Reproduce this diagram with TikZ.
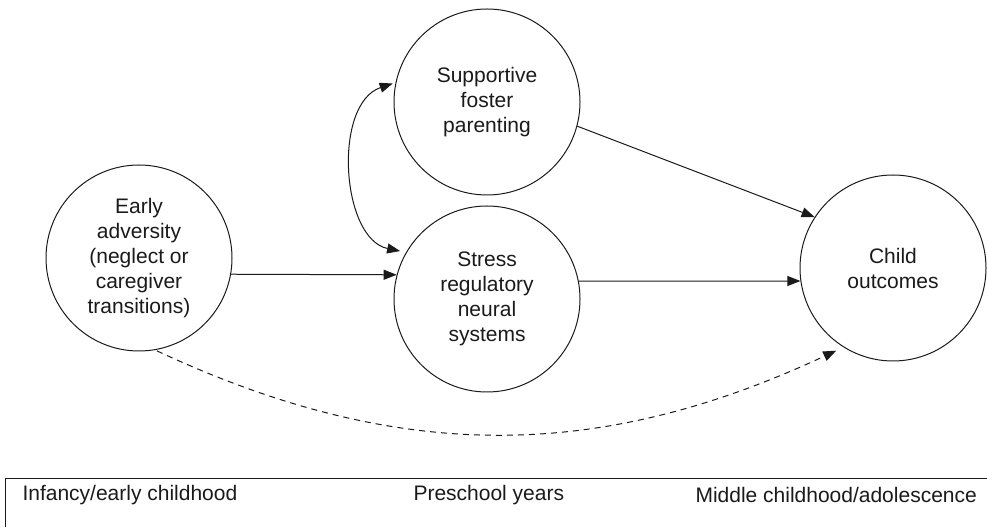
\documentclass[tikz,border=0pt]{standalone}
\usepackage{fontspec}
\setmainfont{Liberation Sans}
\usepackage{xcolor}
\usetikzlibrary{calc,positioning,arrows.meta}
\definecolor{color_line_default}{HTML}{1a1a1a}

\begin{document}
\begin{tikzpicture}[scale=1,color_line_default,x=1pt,y=1pt,line width=1pt,
		>={Triangle[length=13pt,width=10pt]},
		stage_circle/.style={circle,draw,minimum size=186pt,inner sep=0pt,align=center,
			font=\fontsize{21}{25}\selectfont},
		stage_label/.style={anchor=west,inner sep=0pt,font=\fontsize{21}{25}\selectfont}]
				\useasboundingbox (0, 0) rectangle (987, 527);
				% Circles
				\node[stage_circle] (early) at (139, 269) {Early\\adversity\\(neglect or\\caregiver\\transitions)};
				\node[stage_circle] (foster) at (487, 425) {Supportive\\foster\\parenting};
				\node[stage_circle] (stress) at (487, 228) {Stress\\regulatory\\neural\\systems};
				\node[stage_circle] (child) at (893, 259) {Child\\outcomes};

				% Timeline
				\coordinate (BL) at (5, 0);
				\coordinate (TL) at (5, 48);
				\coordinate (TR) at (987, 48);
				\draw (BL) -- (TL) -- (TR);
				\node[stage_label] (infancy) at (22, 32) {Infancy/early childhood};
				\node[stage_label] (preschool) at (413, 32) {Preschool years};
				\node[stage_label] (middle) at (695, 32) {Middle childhood/adolescence};

				% Paths
				\draw[->] (early.-10) -- (stress.165);
				\draw[->] (stress.11) -- (child.188);
				\draw[->] (foster.-15) -- (child.147);
				\draw[<->,shorten <=3pt,shorten >=6pt]
					(foster.168) to[bend right=75] (stress.150)
					;

				% Dashed direct path
				\draw[->,dashed,dash pattern=on 6pt off 5pt,shorten <=2pt,shorten >=8pt]
					(early.-80) to[out=-25,in=205] (child.238)
					;
			\end{tikzpicture}
\end{document}
